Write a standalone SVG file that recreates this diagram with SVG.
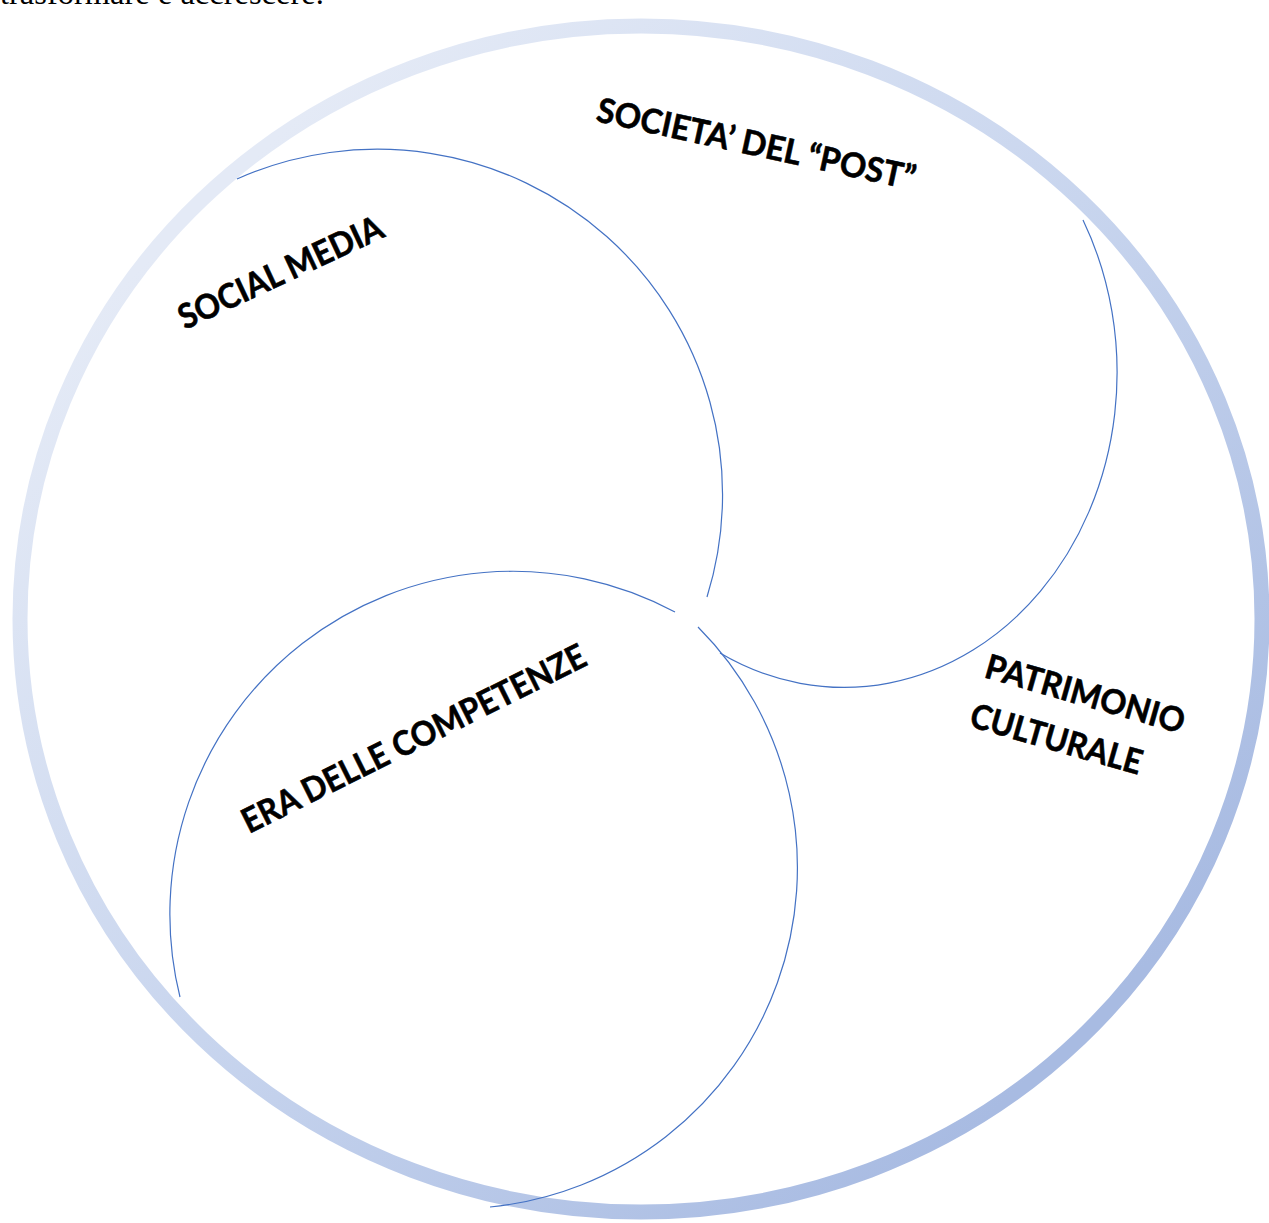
<svg xmlns="http://www.w3.org/2000/svg" width="1269" height="1223" viewBox="0 0 1269 1223">
<style>
.arc{fill:none;stroke:#4472c4;stroke-width:1.2}
.lbl{font-family:Lato,"Open Sans","Liberation Sans",sans-serif;font-weight:bold;font-size:34px;fill:#000;stroke:#000;stroke-width:0.6}
.top{font-family:"Liberation Serif","Times New Roman",serif;font-size:32.5px;fill:#000}
</style>
<defs>
<linearGradient id="ringGrad" x1="0" y1="0" x2="1" y2="1">
<stop offset="0.15" stop-color="#e4eaf6"/>
<stop offset="0.5" stop-color="#c8d5ee"/>
<stop offset="0.85" stop-color="#a8bbe2"/>
</linearGradient>
</defs>
<rect width="1269" height="1223" fill="#ffffff"/>
<text class="top" x="0" y="3.5">trasformare e accrescere.</text>
<g id="ring">
<ellipse cx="641" cy="619" rx="621" ry="593" fill="none" stroke="url(#ringGrad)" stroke-width="15"/>
</g>
<g id="connectors">
<path class="arc" d="M237,179 A345.3,345.3 0 0 1 707,597"/>
<path class="arc" d="M1083,220 A273,315 0 0 1 720,653"/>
<path class="arc" d="M180,997 A343,343 0 0 1 675,612"/>
<path class="arc" d="M698,627 A341,341 0 0 1 490,1207"/>
</g>
<g id="social-media">
<text class="lbl" transform="translate(185,330) rotate(-25)" textLength="222" lengthAdjust="spacingAndGlyphs">SOCIAL MEDIA</text>
</g>
<g id="societa-post">
<text class="lbl" transform="translate(595,121) rotate(12.3)" textLength="325" lengthAdjust="spacingAndGlyphs">SOCIETA’ DEL “POST”</text>
</g>
<g id="patrimonio-culturale">
<text class="lbl" transform="translate(983,677) rotate(16)" textLength="206" lengthAdjust="spacingAndGlyphs">PATRIMONIO</text>
<text class="lbl" transform="translate(968,726) rotate(16)" textLength="177" lengthAdjust="spacingAndGlyphs">CULTURALE</text>
</g>
<g id="era-competenze">
<text class="lbl" transform="translate(249,834) rotate(-26.5)" textLength="380" lengthAdjust="spacingAndGlyphs">ERA DELLE COMPETENZE</text>
</g>
</svg>
